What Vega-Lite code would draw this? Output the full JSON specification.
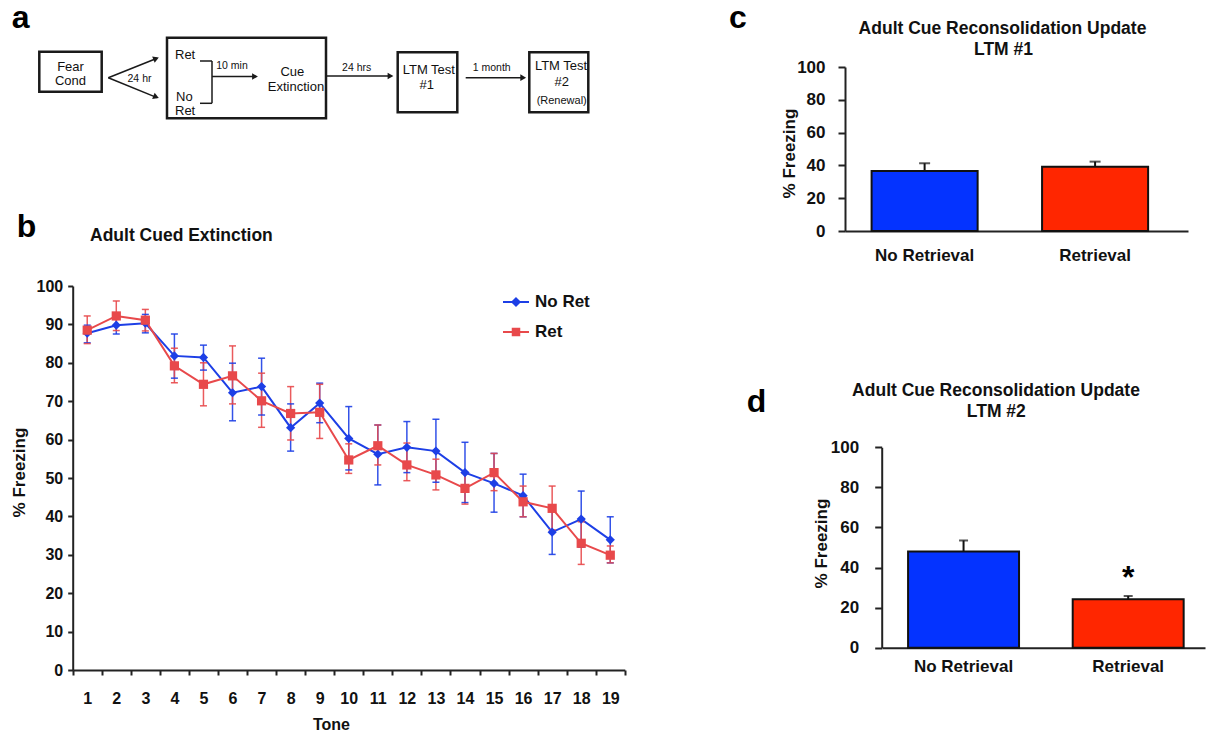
{
  "$schema": "https://vega.github.io/schema/vega-lite/v6.json",
  "width": 1208,
  "height": 734,
  "autosize": {"type": "none"},
  "padding": 0,
  "background": "white",
  "config": {
    "view": {"stroke": null},
    "font": "Liberation Sans",
    "axis": {"labelFont": "Liberation Sans", "titleFont": "Liberation Sans", "grid": false},
    "legend": {"labelFont": "Liberation Sans"},
    "text": {"font": "Liberation Sans"}
  },
  "datasets": {
    "boxes": [
      {"x1": 39.3, "x2": 101.7, "y1": 51.7, "y2": 91.7},
      {"x1": 167, "x2": 326, "y1": 37.7, "y2": 118.3},
      {"x1": 397.7, "x2": 457.3, "y1": 52.3, "y2": 112.3},
      {"x1": 529.3, "x2": 588.3, "y1": 52.3, "y2": 112.3}
    ],
    "lines": [
      {"x1": 108.3, "x2": 157, "y1": 77.7, "y2": 58.2},
      {"x1": 108.3, "x2": 157, "y1": 77.7, "y2": 97.6},
      {"x1": 200, "x2": 212, "y1": 61, "y2": 61},
      {"x1": 212, "x2": 212, "y1": 61, "y2": 103.3},
      {"x1": 200, "x2": 212, "y1": 103.3, "y2": 103.3},
      {"x1": 212, "x2": 255, "y1": 76.5, "y2": 76.5},
      {"x1": 326, "x2": 391, "y1": 76, "y2": 76},
      {"x1": 465.7, "x2": 524, "y1": 77.7, "y2": 77.7}
    ],
    "heads": [
      {"x": 156.1, "y": 58.6, "angle": -22},
      {"x": 156.1, "y": 97.0, "angle": 22},
      {"x": 255, "y": 76.5, "angle": 0},
      {"x": 390.5, "y": 76, "angle": 0},
      {"x": 523.2, "y": 77.7, "angle": 0}
    ],
    "notes": [
      {"kind": "letter", "text": "a", "x": 11.7, "y": 28.3},
      {"kind": "letter", "text": "b", "x": 16.7, "y": 236.7},
      {"kind": "letter", "text": "c", "x": 729, "y": 28.3},
      {"kind": "letter", "text": "d", "x": 746.7, "y": 411.7},
      {"kind": "title", "text": "Adult Cue Reconsolidation Update", "x": 1002.5, "y": 29.3},
      {"kind": "title", "text": "LTM #1", "x": 1003.5, "y": 50},
      {"kind": "title", "text": "Adult Cue Reconsolidation Update", "x": 996, "y": 390.7},
      {"kind": "title", "text": "LTM #2", "x": 996.3, "y": 411.7},
      {"kind": "titleL", "text": "Adult Cued Extinction", "x": 90, "y": 236},
      {"kind": "box", "text": "Fear", "x": 70.5, "y": 66.5},
      {"kind": "box", "text": "Cond", "x": 70.5, "y": 81},
      {"kind": "box", "text": "Cue", "x": 292.3, "y": 72.3},
      {"kind": "box", "text": "Extinction", "x": 296, "y": 87.3},
      {"kind": "box", "text": "LTM Test", "x": 428.8, "y": 70},
      {"kind": "box", "text": "#1", "x": 426.7, "y": 85},
      {"kind": "box", "text": "LTM Test", "x": 561, "y": 65.7},
      {"kind": "box", "text": "#2", "x": 561.8, "y": 81.7},
      {"kind": "boxL", "text": "Ret", "x": 175, "y": 55},
      {"kind": "boxL", "text": "No", "x": 176, "y": 96.7},
      {"kind": "boxL", "text": "Ret", "x": 175, "y": 110.5},
      {"kind": "arrow", "text": "24 hr", "x": 139.5, "y": 79},
      {"kind": "arrow", "text": "10 min", "x": 232, "y": 65.7},
      {"kind": "arrow", "text": "24 hrs", "x": 356.7, "y": 67.7},
      {"kind": "arrow", "text": "1 month", "x": 491.7, "y": 67.7},
      {"kind": "small", "text": "(Renewal)", "x": 561.7, "y": 101}
    ],
    "ext": [
      {"tone": 1, "group": "No Ret", "mean": 87.7, "lo": 85.2, "hi": 89.8},
      {"tone": 2, "group": "No Ret", "mean": 89.8, "lo": 87.5, "hi": 91.8},
      {"tone": 3, "group": "No Ret", "mean": 90.3, "lo": 87.8, "hi": 92.6},
      {"tone": 4, "group": "No Ret", "mean": 81.8, "lo": 76.0, "hi": 87.5},
      {"tone": 5, "group": "No Ret", "mean": 81.4, "lo": 78.1, "hi": 84.6},
      {"tone": 6, "group": "No Ret", "mean": 72.2, "lo": 64.9, "hi": 79.9},
      {"tone": 7, "group": "No Ret", "mean": 73.8, "lo": 66.4, "hi": 81.2},
      {"tone": 8, "group": "No Ret", "mean": 63.1, "lo": 57.0, "hi": 69.3},
      {"tone": 9, "group": "No Ret", "mean": 69.5, "lo": 64.4, "hi": 74.7},
      {"tone": 10, "group": "No Ret", "mean": 60.3, "lo": 52.1, "hi": 68.6},
      {"tone": 11, "group": "No Ret", "mean": 56.2, "lo": 48.2, "hi": 63.8},
      {"tone": 12, "group": "No Ret", "mean": 58.0, "lo": 51.4, "hi": 64.7},
      {"tone": 13, "group": "No Ret", "mean": 57.0, "lo": 48.9, "hi": 65.3},
      {"tone": 14, "group": "No Ret", "mean": 51.4, "lo": 43.6, "hi": 59.3},
      {"tone": 15, "group": "No Ret", "mean": 48.6, "lo": 41.1, "hi": 56.4},
      {"tone": 16, "group": "No Ret", "mean": 45.4, "lo": 39.9, "hi": 51.0},
      {"tone": 17, "group": "No Ret", "mean": 35.9, "lo": 30.1, "hi": 41.7},
      {"tone": 18, "group": "No Ret", "mean": 39.3, "lo": 32.0, "hi": 46.6},
      {"tone": 19, "group": "No Ret", "mean": 33.9, "lo": 27.9, "hi": 39.9},
      {"tone": 1, "group": "Ret", "mean": 88.5, "lo": 85.0, "hi": 92.2},
      {"tone": 2, "group": "Ret", "mean": 92.2, "lo": 88.4, "hi": 96.1},
      {"tone": 3, "group": "Ret", "mean": 91.1, "lo": 88.3, "hi": 93.9},
      {"tone": 4, "group": "Ret", "mean": 79.2, "lo": 74.8, "hi": 83.8},
      {"tone": 5, "group": "Ret", "mean": 74.4, "lo": 68.8, "hi": 80.0},
      {"tone": 6, "group": "Ret", "mean": 76.6, "lo": 69.3, "hi": 84.4},
      {"tone": 7, "group": "Ret", "mean": 70.1, "lo": 63.2, "hi": 77.3},
      {"tone": 8, "group": "Ret", "mean": 66.8, "lo": 59.9, "hi": 73.8},
      {"tone": 9, "group": "Ret", "mean": 67.1, "lo": 60.3, "hi": 74.4},
      {"tone": 10, "group": "Ret", "mean": 54.7, "lo": 51.2, "hi": 58.9},
      {"tone": 11, "group": "Ret", "mean": 58.4, "lo": 53.4, "hi": 63.8},
      {"tone": 12, "group": "Ret", "mean": 53.4, "lo": 49.3, "hi": 59.1},
      {"tone": 13, "group": "Ret", "mean": 50.8, "lo": 46.9, "hi": 54.9},
      {"tone": 14, "group": "Ret", "mean": 47.3, "lo": 43.2, "hi": 51.2},
      {"tone": 15, "group": "Ret", "mean": 51.4, "lo": 46.7, "hi": 56.4},
      {"tone": 16, "group": "Ret", "mean": 43.8, "lo": 39.9, "hi": 47.9},
      {"tone": 17, "group": "Ret", "mean": 42.1, "lo": 36.5, "hi": 47.9},
      {"tone": 18, "group": "Ret", "mean": 33.0, "lo": 27.5, "hi": 38.6},
      {"tone": 19, "group": "Ret", "mean": 29.9, "lo": 27.9, "hi": 32.3}
    ],
    "ltm1": [
      {"cond": "No Retrieval", "mean": 36.6, "hi": 41.3},
      {"cond": "Retrieval", "mean": 39.2, "hi": 42.3}
    ],
    "ltm2": [
      {"cond": "No Retrieval", "mean": 48.0, "hi": 53.5, "sig": ""},
      {"cond": "Retrieval", "mean": 24.2, "hi": 25.8, "sig": "*"}
    ]
  },
  "layer": [
    {
      "encoding": {
        "x": {"field": "x", "type": "quantitative", "scale": {"domain": [0, 1208], "range": [0, 1208], "zero": false, "nice": false}, "axis": null},
        "y": {"field": "y", "type": "quantitative", "scale": {"domain": [0, 734], "range": [0, 734], "zero": false, "nice": false}, "axis": null}
      },
      "layer": [
        {
          "data": {"name": "boxes"},
          "mark": {"type": "rect", "fill": "white", "stroke": "#1a1a1a", "strokeWidth": 2.5},
          "encoding": {
            "x": {"field": "x1", "type": "quantitative", "axis": null},
            "x2": {"field": "x2"},
            "y": {"field": "y1", "type": "quantitative", "axis": null},
            "y2": {"field": "y2"}
          }
        },
        {
          "data": {"name": "lines"},
          "mark": {"type": "rule", "stroke": "#1a1a1a", "strokeWidth": 1.5},
          "encoding": {
            "x": {"field": "x1", "type": "quantitative", "axis": null},
            "x2": {"field": "x2"},
            "y": {"field": "y1", "type": "quantitative", "axis": null},
            "y2": {"field": "y2"}
          }
        },
        {
          "data": {"name": "heads"},
          "mark": {"type": "point", "shape": "triangle-right", "filled": true, "color": "#1a1a1a", "size": 45, "opacity": 1},
          "encoding": {
            "angle": {"field": "angle", "type": "quantitative", "scale": null}
          }
        },
        {
          "data": {"name": "notes"},
          "transform": [{"filter": "datum.kind === 'letter'"}],
          "mark": {"type": "text", "fontSize": 32, "fontWeight": "bold", "align": "left", "baseline": "alphabetic", "color": "#000"},
          "encoding": {"text": {"field": "text"}}
        },
        {
          "data": {"name": "notes"},
          "transform": [{"filter": "datum.kind === 'title'"}],
          "mark": {"type": "text", "fontSize": 17.5, "fontWeight": "bold", "align": "center", "baseline": "middle", "color": "#111"},
          "encoding": {"text": {"field": "text"}}
        },
        {
          "data": {"name": "notes"},
          "transform": [{"filter": "datum.kind === 'titleL'"}],
          "mark": {"type": "text", "fontSize": 17.5, "fontWeight": "bold", "align": "left", "baseline": "middle", "color": "#111"},
          "encoding": {"text": {"field": "text"}}
        },
        {
          "data": {"name": "notes"},
          "transform": [{"filter": "datum.kind === 'box'"}],
          "mark": {"type": "text", "fontSize": 13, "align": "center", "baseline": "middle", "color": "#111"},
          "encoding": {"text": {"field": "text"}}
        },
        {
          "data": {"name": "notes"},
          "transform": [{"filter": "datum.kind === 'boxL'"}],
          "mark": {"type": "text", "fontSize": 13, "align": "left", "baseline": "middle", "color": "#111"},
          "encoding": {"text": {"field": "text"}}
        },
        {
          "data": {"name": "notes"},
          "transform": [{"filter": "datum.kind === 'arrow'"}],
          "mark": {"type": "text", "fontSize": 10.5, "align": "center", "baseline": "middle", "color": "#111"},
          "encoding": {"text": {"field": "text"}}
        },
        {
          "data": {"name": "notes"},
          "transform": [{"filter": "datum.kind === 'small'"}],
          "mark": {"type": "text", "fontSize": 11, "align": "center", "baseline": "middle", "color": "#111"},
          "encoding": {"text": {"field": "text"}}
        }
      ]
    },
    {
      "data": {"name": "ext"},
      "encoding": {
        "x": {
          "field": "tone", "type": "ordinal",
          "scale": {"type": "band", "domain": [1, 2, 3, 4, 5, 6, 7, 8, 9, 10, 11, 12, 13, 14, 15, 16, 17, 18, 19], "range": [72.7, 624.8], "paddingInner": 0, "paddingOuter": 0},
          "axis": {
            "orient": "bottom", "offset": -64, "title": "Tone", "titleX": 331, "titleY": 46.5, "titleBaseline": "top",
            "titleFontSize": 16, "titleFontWeight": "bold", "titleColor": "#111",
            "labelAngle": 0, "labelFontSize": 16, "labelFontWeight": "bold", "labelColor": "#111", "labelPadding": 15,
            "tickBand": "extent", "tickSize": 5, "tickWidth": 2, "tickColor": "#222", "domainColor": "#222", "domainWidth": 2
          }
        },
        "color": {
          "field": "group", "type": "nominal",
          "scale": {"domain": ["No Ret", "Ret"], "range": ["#1d3fe6", "#e8494b"]},
          "legend": {
            "orient": "none", "legendX": 502, "legendY": 288, "title": null, "padding": 0,
            "symbolSize": 676, "rowPadding": 8, "labelOffset": 5,
            "labelFontSize": 17, "labelFontWeight": "bold", "labelColor": "#111",
            "symbolStrokeWidth": 2,
            "encode": {
              "symbols": {
                "update": {
                  "shape": {"signal": "datum.value === 'No Ret' ? 'M-1,0H1M0,-0.28L0.28,0L0,0.28L-0.28,0Z' : 'M-1,0H1M-0.25,-0.25H0.25V0.25H-0.25Z'"},
                  "fill": {"signal": "datum.value === 'No Ret' ? '#1d3fe6' : '#e8494b'"},
                  "stroke": {"signal": "datum.value === 'No Ret' ? '#1d3fe6' : '#e8494b'"},
                  "strokeWidth": {"value": 2},
                  "size": {"value": 676},
                  "opacity": {"value": 1},
                  "fillOpacity": {"value": 1},
                  "strokeOpacity": {"value": 1}
                }
              }
            }
          }
        }
      },
      "layer": [
        {
          "mark": {"type": "line", "strokeWidth": 2},
          "encoding": {
            "y": {
              "field": "mean", "type": "quantitative", "title": "% Freezing",
              "scale": {"domain": [0, 100], "range": [670, 286], "nice": false, "zero": false},
              "axis": {
                "orient": "left", "offset": -72.7, "values": [0, 10, 20, 30, 40, 50, 60, 70, 80, 90, 100],
                "titleX": -44, "titleY": 472, "titleAngle": -90, "titleBaseline": "bottom",
                "titleFontSize": 17, "titleFontWeight": "bold", "titleColor": "#111",
                "labelFontSize": 16, "labelFontWeight": "bold", "labelColor": "#111", "labelPadding": 5,
                "tickSize": 5, "tickWidth": 2, "tickColor": "#222", "domainColor": "#222", "domainWidth": 2
              }
            }
          }
        },
        {
          "mark": {"type": "rule", "strokeWidth": 1.5, "opacity": 0.9},
          "encoding": {
            "y": {"field": "lo", "type": "quantitative", "title": "% Freezing"},
            "y2": {"field": "hi"}
          }
        },
        {
          "mark": {"type": "tick", "thickness": 1.5, "size": 7, "opacity": 0.9},
          "encoding": {"y": {"field": "lo", "type": "quantitative", "title": "% Freezing"}}
        },
        {
          "mark": {"type": "tick", "thickness": 1.5, "size": 7, "opacity": 0.9},
          "encoding": {"y": {"field": "hi", "type": "quantitative", "title": "% Freezing"}}
        },
        {
          "transform": [{"filter": "datum.group === 'No Ret'"}],
          "mark": {"type": "point", "filled": true, "shape": "diamond", "size": 85, "opacity": 1},
          "encoding": {
            "y": {"field": "mean", "type": "quantitative", "title": "% Freezing"}
          }
        },
        {
          "transform": [{"filter": "datum.group === 'Ret'"}],
          "mark": {"type": "point", "filled": true, "shape": "square", "size": 85, "opacity": 1},
          "encoding": {
            "y": {"field": "mean", "type": "quantitative", "title": "% Freezing"}
          }
        }
      ]
    },
    {
      "data": {"name": "ltm1"},
      "encoding": {
        "x": {
          "field": "cond", "type": "nominal",
          "scale": {"type": "band", "domain": ["No Retrieval", "Retrieval"], "range": [845, 1188], "paddingInner": 0.378, "paddingOuter": 0.195, "align": 0.4},
          "axis": {
            "orient": "bottom", "offset": -503, "title": null, "labelAngle": 0, "ticks": false, "tickSize": 0, "labelPadding": 16,
            "labelFontSize": 17, "labelFontWeight": "bold", "labelColor": "#111", "domainColor": "#222", "domainWidth": 2
          }
        }
      },
      "layer": [
        {
          "mark": {"type": "bar", "stroke": "#111", "strokeWidth": 2},
          "encoding": {
            "y": {
              "field": "mean", "type": "quantitative", "title": "% Freezing",
              "scale": {"domain": [0, 100], "range": [231, 67], "nice": false, "zero": true},
              "axis": {
                "orient": "left", "offset": -845, "values": [0, 20, 40, 60, 80, 100],
                "titleX": -47, "titleY": 153, "titleAngle": -90, "titleBaseline": "bottom",
                "titleFontSize": 17, "titleFontWeight": "bold", "titleColor": "#111",
                "labelFontSize": 17, "labelFontWeight": "bold", "labelColor": "#111", "labelPadding": 13,
                "tickSize": 7, "tickWidth": 2, "tickColor": "#222", "domainColor": "#222", "domainWidth": 2
              }
            },
            "fill": {"field": "cond", "type": "nominal", "scale": {"domain": ["No Retrieval", "Retrieval"], "range": ["#0433ff", "#ff2600"]}, "legend": null}
          }
        },
        {
          "mark": {"type": "rule", "stroke": "#111", "strokeWidth": 2},
          "encoding": {
            "y": {"field": "mean", "type": "quantitative", "title": "% Freezing"},
            "y2": {"field": "hi"}
          }
        },
        {
          "mark": {"type": "tick", "color": "#111", "thickness": 2, "size": 11},
          "encoding": {"y": {"field": "hi", "type": "quantitative", "title": "% Freezing"}}
        }
      ]
    },
    {
      "data": {"name": "ltm2"},
      "encoding": {
        "x": {
          "field": "cond", "type": "nominal",
          "scale": {"type": "band", "domain": ["No Retrieval", "Retrieval"], "range": [882, 1205], "paddingInner": 0.326, "paddingOuter": 0.144, "align": 0.55},
          "axis": {
            "orient": "bottom", "offset": -86.3, "title": null, "labelAngle": 0, "ticks": false, "tickSize": 0, "labelPadding": 11,
            "labelFontSize": 17, "labelFontWeight": "bold", "labelColor": "#111", "domainColor": "#222", "domainWidth": 2
          }
        }
      },
      "layer": [
        {
          "mark": {"type": "bar", "stroke": "#111", "strokeWidth": 2},
          "encoding": {
            "y": {
              "field": "mean", "type": "quantitative", "title": "% Freezing",
              "scale": {"domain": [0, 100], "range": [647.7, 447.3], "nice": false, "zero": true},
              "axis": {
                "orient": "left", "offset": -881.7, "values": [0, 20, 40, 60, 80, 100],
                "titleX": -51, "titleY": 543, "titleAngle": -90, "titleBaseline": "bottom",
                "titleFontSize": 17, "titleFontWeight": "bold", "titleColor": "#111",
                "labelFontSize": 17, "labelFontWeight": "bold", "labelColor": "#111", "labelPadding": 16,
                "tickSize": 7, "tickWidth": 2, "tickColor": "#222", "domainColor": "#222", "domainWidth": 2
              }
            },
            "fill": {"field": "cond", "type": "nominal", "scale": {"domain": ["No Retrieval", "Retrieval"], "range": ["#0433ff", "#ff2600"]}, "legend": null}
          }
        },
        {
          "mark": {"type": "rule", "stroke": "#111", "strokeWidth": 2},
          "encoding": {
            "y": {"field": "mean", "type": "quantitative", "title": "% Freezing"},
            "y2": {"field": "hi"}
          }
        },
        {
          "mark": {"type": "tick", "color": "#111", "thickness": 2, "size": 9},
          "encoding": {"y": {"field": "hi", "type": "quantitative", "title": "% Freezing"}}
        },
        {
          "mark": {"type": "text", "fontSize": 32, "fontWeight": "bold", "baseline": "alphabetic", "align": "center", "dy": -8, "color": "#000"},
          "encoding": {
            "y": {"field": "hi", "type": "quantitative", "title": "% Freezing"},
            "text": {"field": "sig"}
          }
        }
      ]
    }
  ],
  "resolve": {
    "scale": {"x": "independent", "y": "independent", "color": "independent", "fill": "independent"},
    "axis": {"x": "independent", "y": "independent"},
    "legend": {"color": "independent", "fill": "independent"}
  }
}
